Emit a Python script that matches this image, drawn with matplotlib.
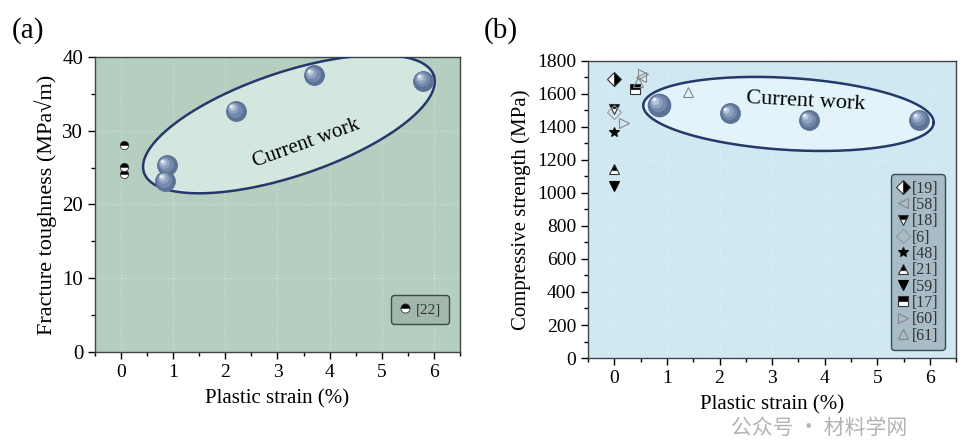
import numpy as np
import matplotlib
matplotlib.use('Agg')
import matplotlib.pyplot as plt
from matplotlib.transforms import offset_copy

plt.rcParams['font.family'] = ['Liberation Serif', 'DejaVu Serif']

# Data ==========================================================#
# (a) fracture toughness
cw_a_x = [0.88, 0.85, 2.2, 3.7, 5.8]
cw_a_y = [25.3, 23.2, 32.7, 37.5, 36.8]
ref22_x = [0.05, 0.05, 0.05]
ref22_y = [28.1, 25.1, 24.2]

# (b) compressive strength
cw_b_x = [0.85, 2.2, 3.7, 5.8]
cw_b_y = [1535, 1483, 1442, 1445]

ref_labels = ['[19]', '[58]', '[18]', '[6]', '[48]', '[21]', '[59]', '[17]', '[60]', '[61]']
ref_x = [[0.0], [0.5], [0.0], [0.0], [0.0], [0.0], [0.0], [0.4], [0.18, 0.55], [1.4, 0.45]]
ref_y = [[1690], [1700], [1510], [1490], [1370], [1145], [1040], [1630], [1425, 1720], [1612, 1670]]

xticks = [0, 1, 2, 3, 4, 5, 6]

# Styles ========================================================#
ref_styles = [
    dict(marker='D', fillstyle='right', mfc='black', mfcalt='white', mec='#333333'),
    dict(marker='<', fillstyle='none', mec='#888888'),
    dict(marker='v', fillstyle='top', mfc='black', mfcalt='white', mec='#333333'),
    dict(marker='D', fillstyle='none', mec='#999999'),
    dict(marker='*', fillstyle='full', mfc='black', mec='black'),
    dict(marker='^', fillstyle='top', mfc='black', mfcalt='white', mec='#333333'),
    dict(marker='v', fillstyle='full', mfc='black', mec='black'),
    dict(marker='s', fillstyle='top', mfc='black', mfcalt='white', mec='#333333'),
    dict(marker='>', fillstyle='none', mec='#888888'),
    dict(marker='^', fillstyle='none', mec='#888888'),
]


def spheres(ax, xs, ys, size):
    # shaded ball: dark base + lighter layers shifted up-left
    ax.plot(xs, ys, 'o', ms=size, mfc='#5d7396', mec='#5d7396', zorder=5)
    layers = [(0.78, '#7389ab'), (0.55, '#8fa3c0'), (0.33, '#b8c7da'), (0.15, '#eef2f7')]
    for frac, col in layers:
        shift = (1 - frac) * size * 0.28
        tr = offset_copy(ax.transData, fig=ax.figure, x=-shift, y=shift, units='points')
        ax.plot(xs, ys, 'o', ms=size * frac, mfc=col, mec='none', transform=tr, zorder=6)


def ellipse(ax, cx, cy, a_px, b_px, ang, px_x, px_y, face):
    t = np.linspace(0, 2 * np.pi, 300)
    th = np.deg2rad(ang)
    dx = a_px * np.cos(t) * np.cos(th) - b_px * np.sin(t) * np.sin(th)
    dy = a_px * np.cos(t) * np.sin(th) + b_px * np.sin(t) * np.cos(th)
    ex = cx + dx / px_x
    ey = cy + dy / px_y
    ax.fill(ex, ey, color=face, zorder=2)
    ax.plot(ex, ey, color='#26386a', lw=1.8, zorder=3)


def style_axes(ax, bg):
    ax.set_facecolor(bg)
    ax.set_xlim(-0.5, 6.5)
    ax.set_xticks(xticks)
    ax.set_xticks(np.arange(-0.5, 6.6, 0.5), minor=True)
    ax.tick_params(which='both', direction='out', labelsize=14, width=1)
    ax.tick_params(which='major', length=5)
    ax.tick_params(which='minor', length=3)
    ax.grid(True, which='major', color='white', alpha=0.35, ls=':', lw=0.9, zorder=0)
    ax.set_axisbelow(True)
    for s in ax.spines.values():
        s.set_color('#444444')
        s.set_linewidth(1.0)
    ax.set_xlabel('Plastic strain (%)', fontsize=15, labelpad=6)


def style_legend(leg, face, edge):
    fr = leg.get_frame()
    fr.set_facecolor(face)
    fr.set_edgecolor(edge)
    fr.set_linewidth(1.0)
    for t in leg.get_texts():
        t.set_color('#333333')


fig = plt.figure(figsize=(9.64, 4.46), dpi=100)

#Panel (a)=======================================================#
ax1 = fig.add_axes([0.0985, 0.2108, 0.3786, 0.6614])
style_axes(ax1, '#b4cfc0')
ax1.set_ylim(0, 40)
ax1.set_yticks([0, 10, 20, 30, 40])
ax1.set_yticks(np.arange(0, 41, 5), minor=True)
ax1.tick_params(axis='y', labelsize=15)
ax1.set_ylabel('Fracture toughness (MPa√m)', fontsize=16, labelpad=4)

ellipse(ax1, 3.22, 30.9, 153, 52, 18.5, 52.2, 7.375, '#d3e7de')
ax1.text(3.56, 28.3, 'Current work', rotation=20, fontsize=15, ha='center', va='center', zorder=4)

ax1.plot(ref22_x, ref22_y, 'o', ms=6, fillstyle='top', mfc='black', mfcalt='white',
         mec='#333333', mew=0.6, zorder=5, label='[22]')
spheres(ax1, cw_a_x, cw_a_y, 14)

leg1 = ax1.legend(loc='lower right', bbox_to_anchor=(0.99, 0.07), fontsize=11,
                  handlelength=0.8, handletextpad=0.3, borderpad=0.5, fancybox=True,
                  framealpha=1, markerscale=1.1)
style_legend(leg1, '#a3b8ac', '#3a4a44')

#Panel (b)=======================================================#
ax2 = fig.add_axes([0.61, 0.1973, 0.382, 0.666])
style_axes(ax2, '#d0e8f2')
ax2.set_ylim(0, 1800)
ax2.set_yticks(np.arange(0, 1801, 200))
ax2.set_yticks(np.arange(0, 1801, 100), minor=True)
ax2.set_ylabel('Compressive strength (MPa)', fontsize=15, labelpad=4)

ellipse(ax2, 3.31, 1479, 146, 36, -3.5, 52.8, 0.165, '#e2f3fa')
ax2.text(3.64, 1553, 'Current work', rotation=-3, fontsize=16, ha='center', va='center', zorder=4)

handles = []
for lab, xs, ys, st in zip(ref_labels, ref_x, ref_y, ref_styles):
    kw = dict(st)
    h, = ax2.plot(xs, ys, ls='none', ms=7, mew=0.8, zorder=5, label=lab,
                  marker=kw.pop('marker'), fillstyle=kw.pop('fillstyle'),
                  mec=kw.pop('mec'), mfc=kw.pop('mfc', 'none'),
                  markerfacecoloralt=kw.pop('mfcalt', 'none'))
    handles.append(h)

spheres(ax2, [cw_b_x[0]], [cw_b_y[0]], 16)
spheres(ax2, cw_b_x[1:], cw_b_y[1:], 14)

leg2 = ax2.legend(handles=handles, loc='lower right', bbox_to_anchor=(0.99, 0.0),
                  fontsize=11.5, handlelength=0.7, handletextpad=0.2, labelspacing=0.02,
                  borderpad=0.4, fancybox=True, framealpha=1, markerscale=1.05)
style_legend(leg2, '#a7bcc7', '#3a4a55')

# panel labels
fig.text(0.012, 0.915, '(a)', fontsize=21)
fig.text(0.502, 0.915, '(b)', fontsize=21)

# watermark
fig.text(0.85, 0.04, '公众号 · 材料学网', fontsize=15, color='#9a9a9a', alpha=0.75,
         family=['Noto Sans CJK SC', 'DejaVu Sans'], ha='center', va='center')

fig.savefig('out.png', dpi=100)
